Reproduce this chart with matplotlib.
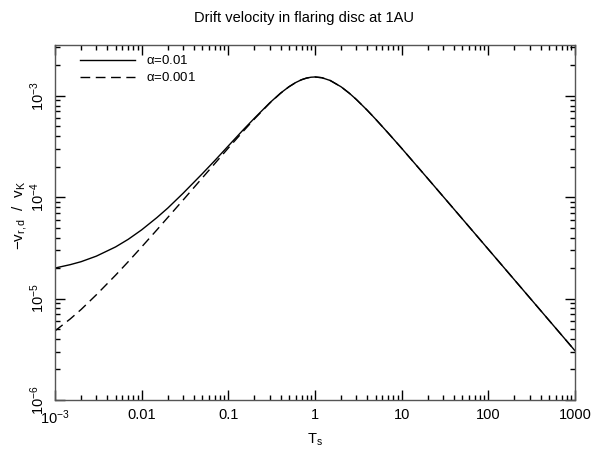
import matplotlib
matplotlib.use("Agg")
from matplotlib import pyplot as plt
from matplotlib.ticker import LogLocator, NullFormatter, FixedLocator

plt.rcParams['font.family'] = ['Liberation Sans', 'DejaVu Sans']
plt.rcParams['mathtext.fontset'] = 'custom'
plt.rcParams['mathtext.rm'] = 'Liberation Sans'
plt.rcParams['mathtext.it'] = 'Liberation Sans'

# stopping time T_s and -v_r,d / v_K
ts = [0.001, 0.0015, 0.002, 0.003, 0.005, 0.007, 0.01, 0.015, 0.02, 0.03,
      0.05, 0.07, 0.1, 0.15, 0.2, 0.3, 0.4, 0.5, 0.6, 0.7, 0.8, 0.9, 1.0,
      1.2, 1.5, 2.0, 2.5, 3.0, 4.0, 5.0, 7.0, 10.0, 20.0, 50.0, 100.0,
      200.0, 500.0, 1000.0]
v_a01 = [2.0e-5, 2.16e-5, 2.31e-5, 2.62e-5, 3.23e-5, 3.84e-5, 4.76e-5,
         6.29e-5, 7.8e-5, 1.09e-4, 1.70e-4, 2.30e-4, 3.20e-4, 4.65e-4,
         6.0e-4, 8.5e-4, 1.06e-3, 1.225e-3, 1.35e-3, 1.438e-3, 1.493e-3,
         1.522e-3, 1.53e-3, 1.505e-3, 1.412e-3, 1.224e-3, 1.055e-3,
         9.18e-4, 7.2e-4, 5.88e-4, 4.28e-4, 3.03e-4, 1.526e-4, 6.12e-5,
         3.06e-5, 1.53e-5, 6.12e-6, 3.06e-6]
v_a001 = [4.8e-6, 6.3e-6, 7.8e-6, 1.09e-5, 1.70e-5, 2.31e-5, 3.23e-5,
          4.76e-5, 6.3e-5, 9.34e-5, 1.545e-4, 2.15e-4, 3.05e-4, 4.5e-4,
          5.9e-4, 8.43e-4, 1.055e-3, 1.224e-3, 1.35e-3, 1.438e-3, 1.493e-3,
          1.522e-3, 1.53e-3, 1.505e-3, 1.412e-3, 1.224e-3, 1.055e-3,
          9.18e-4, 7.2e-4, 5.88e-4, 4.28e-4, 3.03e-4, 1.526e-4, 6.12e-5,
          3.06e-5, 1.53e-5, 6.12e-6, 3.06e-6]

xticks = [1e-3, 1e-2, 1e-1, 1, 10, 100, 1000]
xticklabels = ["$10^{-3}$", "0.01", "0.1", "1", "10", "100", "1000"]
yticks = [1e-6, 1e-5, 1e-4, 1e-3]
yticklabels = ["$10^{-6}$", "$10^{-5}$", "$10^{-4}$", "$10^{-3}$"]

fig = plt.figure(figsize=(6.08, 4.54), dpi=100)
ax = fig.add_axes([55 / 608, 1 - 400 / 454, 520 / 608, 355 / 454])

ax.plot(ts, v_a01, color="black", lw=1.0, label=r"$\alpha$=0.01")
ax.plot(ts, v_a001, color="black", lw=1.0, dashes=(7, 4), label=r"$\alpha$=0.001")

ax.set_xscale("log")
ax.set_yscale("log")
ax.set_xlim(1e-3, 1e3)
ax.set_ylim(1e-6, 10 ** -2.5)

ax.xaxis.set_major_locator(FixedLocator(xticks))
ax.set_xticklabels(xticklabels)
ax.yaxis.set_major_locator(FixedLocator(yticks))
ax.set_yticklabels(yticklabels, rotation=90, va="center")
ax.xaxis.set_minor_locator(LogLocator(base=10, subs=range(2, 10), numticks=20))
ax.yaxis.set_minor_locator(LogLocator(base=10, subs=range(2, 10), numticks=20))
ax.xaxis.set_minor_formatter(NullFormatter())
ax.yaxis.set_minor_formatter(NullFormatter())

ax.tick_params(which="both", direction="in", top=True, right=True,
               labelsize=10.5, width=1.0, color="black")
ax.tick_params(which="major", length=7, pad=6)
ax.tick_params(axis="y", which="major", pad=6)
ax.tick_params(which="minor", length=3.5)
for s in ax.spines.values():
    s.set_linewidth(1.0)
    s.set_color("#555555")

ax.set_xlabel("$\\mathregular{T_s}$", fontsize=10.5)
ax.xaxis.set_label_coords(0.5, -0.09)
ax.set_ylabel("$\\mathregular{-v_{r,d}\\ \\ /\\ \\ v_K}$", fontsize=11)
ax.yaxis.set_label_coords(-0.05, 0.52)
fig.suptitle("Drift velocity in flaring disc at 1AU", y=0.975, fontsize=10.5)

ax.legend(loc="upper left", frameon=False, fontsize=9.5, handlelength=4.2,
          handletextpad=0.8, labelspacing=0.3, borderaxespad=0.3,
          bbox_to_anchor=(0.03, 1.0))

fig.savefig("out.png", dpi=100)
